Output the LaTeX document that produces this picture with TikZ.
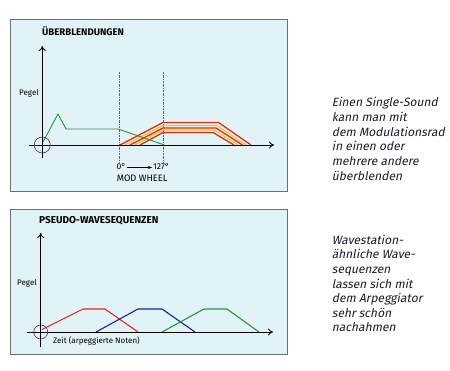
\documentclass[tikz,border=0pt]{standalone}
\usepackage{fontspec}
\setsansfont{Fira Sans}
\newfontfamily\sidefont{Fira Sans}[FakeSlant=0.2]
\usetikzlibrary{arrows.meta}
\definecolor{panelbg}{RGB}{226,243,247}
\definecolor{panelline}{RGB}{110,110,115}
\definecolor{wred}{RGB}{232,38,30}
\definecolor{wyellow}{RGB}{246,196,20}
\definecolor{wgreen}{RGB}{40,150,55}
\definecolor{wblue}{RGB}{26,36,150}
\definecolor{sidetext}{RGB}{28,28,40}
\definecolor{ringcol}{RGB}{60,50,90}
\tikzset{
  panel/.style={fill=panelbg, draw=panelline, line width=0.6pt},
  axis/.style={black, line width=0.9pt},
  axisarrow/.style={axis, -{To[length=5pt,width=7pt]}},
  ring/.style={draw=ringcol, line width=0.6pt},
  guide/.style={black!60, line width=0.6pt, dash pattern=on 2pt off 1pt on 0.5pt off 1pt},
  title/.style={font=\sffamily\bfseries\fontsize{9.6}{11}\selectfont, inner sep=0pt, anchor=base west},
  small/.style={font=\sffamily\fontsize{8}{9}\selectfont, inner sep=0pt, anchor=base west},
  smallcaps/.style={font=\sffamily\fontsize{8.5}{9}\selectfont, inner sep=0pt, anchor=base west},
  side/.style={font=\sidefont\fontsize{12}{14.7}\selectfont, text=sidetext, inner sep=0pt, anchor=base west},
  redline/.style={wred, line width=1.3pt, line join=miter},
  yelline/.style={wyellow, line width=1.1pt},
  curve/.style={line width=1.1pt, line join=round},
}
\begin{document}
\begin{tikzpicture}[x=1pt,y=-1pt]
\useasboundingbox (0,0) rectangle (450,371);
\fill[white] (0,0) rectangle (450,371);

% ---------- top panel ----------
\node[panel, minimum width=277pt, minimum height=172pt, anchor=north west, inner sep=0pt] (p1) at (10,19) {};
\node[title] (t1) at (42,36) {ÜBERBLENDUNGEN};
\node[small] (peg1) at (19,96) {Pegel};

\coordinate (o1) at (42.3,145);
\coordinate (y1top) at (42.3,46);
\coordinate (y1bot) at (42.3,158);
\coordinate (x1l) at (29,145);
\coordinate (x1r) at (274,145);
\coordinate (d1a) at (119,72);
\coordinate (d1b) at (119,163);
\coordinate (d2a) at (163,72);
\coordinate (d2b) at (163,163);

\draw[guide] (d1a) -- (d1b);
\draw[guide] (d2a) -- (d2b);

% red striped fades
\draw[yelline] (125,145) -- (163,125.5) -- (217,125.5) -- (246,145);
\draw[yelline] (135,145) -- (163,130) -- (214.5,130) -- (238,145);
\draw[redline] (120,145) -- (163,122.5) -- (218.5,122.5) -- (251,145);
\draw[redline] (130,145) -- (163,128) -- (216,128) -- (242.5,145);
\draw[redline] (140,145) -- (163,132.5) -- (213,132.5) -- (234,145);

% green single sound
\draw[curve, wgreen, line width=0.9pt] (43,142) -- (58,114) -- (66,129) -- (118,129) -- (163,144.5);

\draw[axisarrow] (x1l) -- (x1r);
\draw[axisarrow] (y1bot) -- (y1top);
\node[ring, circle, minimum size=16pt, inner sep=0pt] (r1) at (o1) {};

\node[smallcaps] (deg0) at (116.5,170) {0°};
\node[smallcaps] (deg127) at (153,170) {127°};
\draw[black, line width=0.6pt, -{Stealth[length=4pt,width=3pt]}] (127,167.5) coordinate (a0) -- (152,167.5) coordinate (a1);
\node[smallcaps, font=\sffamily\fontsize{9.3}{10}\selectfont] (mw) at (116.7,182) {MOD\ WHEEL};

% ---------- bottom panel ----------
\node[panel, minimum width=277pt, minimum height=145pt, anchor=north west, inner sep=0pt] (p2) at (10,209) {};
\node[title, font=\sffamily\bfseries\fontsize{10}{11}\selectfont] (t2) at (39,224) {PSEUDO-WAVESEQUENZEN};
\node[small] (peg2) at (17,286) {Pegel};

\coordinate (o2) at (40.7,332);
\coordinate (y2top) at (40.7,233);
\coordinate (y2bot) at (40.7,347);
\coordinate (x2l) at (27,332);
\coordinate (x2r) at (273,332);

\draw[curve, wred] (42,329.5) -- (83,309) -- (105,309) -- (138,332);
\draw[curve, wblue] (96,332) -- (138,309) -- (162,309) -- (195,332);
\draw[curve, wgreen] (162,332) -- (204,309) -- (227,309) -- (259,332);

\draw[axisarrow] (x2l) -- (x2r);
\draw[axisarrow] (y2bot) -- (y2top);
\node[ring, circle, minimum size=14pt, inner sep=0pt] (r2) at (o2) {};
\node[small] (zeit) at (53,344) {Zeit (arpeggierte Noten)};

% ---------- side texts ----------
\foreach \t [count=\i] in {Einen Single-Sound, kann man mit, dem Modulationsrad, in einen oder, mehrere andere, überblenden}
  \node[side] (sa\i) at (331.7,{106.7+14.7*(\i-1)}) {\t};
\foreach \t [count=\i] in {Wavestation-, ähnliche Wave-, sequenzen, lassen sich mit, dem Arpeggiator, sehr schön, nachahmen}
  \node[side] (sb\i) at (331.7,{244.3+14.6*(\i-1)}) {\t};
\end{tikzpicture}
\end{document}
